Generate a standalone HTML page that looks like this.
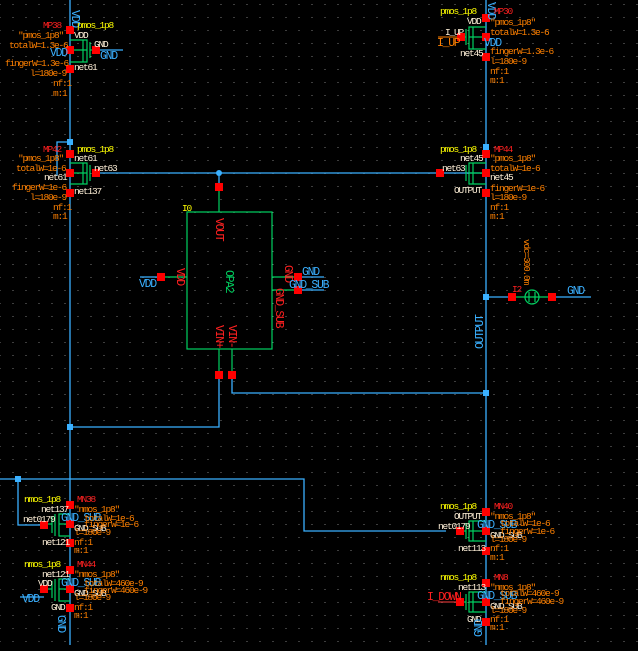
<!DOCTYPE html>
<html><head><meta charset="utf-8"><style>
html,body{margin:0;padding:0;background:#000;}
svg{display:block}
text{font-family:"Liberation Mono",monospace;font-size:9.5px;letter-spacing:-1.2px;}
text[font-size="10"]{font-size:11.5px;letter-spacing:-1.3px;}
.y{fill:#ffff00}.o{fill:#ff8000}.r{fill:#ff2020}.w{fill:#fff0d8}.b{fill:#3ab0ff}.g{fill:#00d060}
</style></head><body>
<svg width="638" height="651" viewBox="0 0 638 651" xmlns="http://www.w3.org/2000/svg">
<defs>
<pattern id="dots" x="12.5" y="4" width="13" height="13" patternUnits="userSpaceOnUse">
<rect x="0" y="0" width="1" height="1" fill="#7a7a7a"/></pattern>
</defs>
<rect width="638" height="651" fill="#000"/>
<rect width="638" height="651" fill="url(#dots)"/>

<g stroke="#3ab0ff" stroke-width="1.3" fill="none">
<line x1="70" y1="0" x2="70" y2="645"/>
<line x1="486" y1="0" x2="486" y2="645"/>
<polyline points="70,142 57,142 57,176"/>
<line x1="96" y1="173" x2="486" y2="173"/>
<polyline points="219,375 219,427 70,427"/>
<polyline points="232,375 232,393 486,393"/>
<line x1="140" y1="277" x2="161" y2="277"/>
<line x1="298" y1="277" x2="324" y2="277"/>
<line x1="298" y1="290" x2="324" y2="290"/>
<line x1="486" y1="297" x2="512" y2="297"/>
<line x1="552" y1="297" x2="591" y2="297"/>
<polyline points="0,479 304,479 304,531 446,531"/>
<polyline points="18,479 18,525 44,525"/>
<line x1="96" y1="50" x2="123" y2="50"/>
<line x1="20" y1="597" x2="44" y2="597"/>
<line x1="219" y1="173" x2="219" y2="187"/>
</g>
<line x1="438" y1="37" x2="461" y2="37" stroke="#ff8000" stroke-width="1"/>
<line x1="438" y1="602" x2="460" y2="602" stroke="#ff4040" stroke-width="1"/>

<g fill="#3ab0ff">
<rect x="67" y="139" width="6" height="6"/>
<circle cx="219" cy="173" r="3"/>
<rect x="483" y="144" width="6" height="6"/>
<rect x="483" y="294" width="6" height="6"/>
<rect x="483" y="390" width="6" height="6"/>
<rect x="67" y="424" width="6" height="6"/>
<rect x="15" y="476" width="6" height="6"/>
</g>

<g stroke="#00d060" stroke-width="1.2" fill="none">
<rect x="187" y="212" width="85" height="137"/>
<line x1="219" y1="187" x2="219" y2="212"/>
<line x1="161" y1="277" x2="187" y2="277"/>
<line x1="272" y1="277" x2="298" y2="277"/>
<line x1="272" y1="290" x2="298" y2="290"/>
<line x1="219" y1="349" x2="219" y2="375"/>
<line x1="232" y1="349" x2="232" y2="375"/>
<line x1="512" y1="297" x2="552" y2="297"/>
<circle cx="532" cy="297" r="7"/>
<line x1="529" y1="292" x2="529" y2="302"/>
<line x1="535" y1="292" x2="535" y2="302"/>
<polyline points="70,40 87,40 87,62 70,62"/><line x1="83" y1="40" x2="83" y2="62"/><line x1="90" y1="42" x2="90" y2="58"/><line x1="90" y1="50" x2="96" y2="50"/><line x1="70" y1="50" x2="87" y2="50"/>
<polyline points="70,163 87,163 87,184 70,184"/><line x1="83" y1="163" x2="83" y2="184"/><line x1="90" y1="165" x2="90" y2="181"/><line x1="70" y1="173" x2="87" y2="173"/>
<polyline points="486,27 469,27 469,49 486,49"/><line x1="473" y1="27" x2="473" y2="49"/><line x1="466" y1="29" x2="466" y2="45"/><line x1="461" y1="37" x2="466" y2="37"/><line x1="469" y1="37" x2="486" y2="37"/>
<polyline points="486,163 469,163 469,184 486,184"/><line x1="473" y1="163" x2="473" y2="184"/><line x1="466" y1="165" x2="466" y2="181"/><line x1="469" y1="173" x2="486" y2="173"/>
<polyline points="70,514 59,514 59,536 70,536"/><line x1="55" y1="514" x2="55" y2="536"/><line x1="52" y1="516" x2="52" y2="533"/><line x1="44" y1="524" x2="52" y2="524"/><line x1="59" y1="524" x2="70" y2="524"/>
<polyline points="70,579 59,579 59,601 70,601"/><line x1="55" y1="579" x2="55" y2="601"/><line x1="52" y1="581" x2="52" y2="598"/><line x1="44" y1="589" x2="52" y2="589"/><line x1="59" y1="589" x2="70" y2="589"/>
<polyline points="486,521 469,521 469,541 486,541"/><line x1="473" y1="521" x2="473" y2="541"/><line x1="466" y1="523" x2="466" y2="539"/><line x1="460" y1="531" x2="466" y2="531"/><line x1="469" y1="531" x2="486" y2="531"/>
<polyline points="486,592 469,592 469,612 486,612"/><line x1="473" y1="592" x2="473" y2="612"/><line x1="466" y1="594" x2="466" y2="610"/><line x1="460" y1="602" x2="466" y2="602"/><line x1="469" y1="602" x2="486" y2="602"/>
</g>

<g fill="#ff0000">
<rect x="66" y="26" width="8" height="8"/><rect x="66" y="46" width="8" height="8"/><rect x="66" y="65" width="8" height="8"/><rect x="92" y="46" width="8" height="8"/>
<rect x="66" y="150" width="8" height="8"/><rect x="66" y="169" width="8" height="8"/><rect x="66" y="189" width="8" height="8"/><rect x="92" y="169" width="8" height="8"/>
<rect x="482" y="14" width="8" height="8"/><rect x="482" y="33" width="8" height="8"/><rect x="482" y="53" width="8" height="8"/><rect x="457" y="33" width="8" height="8"/>
<rect x="482" y="150" width="8" height="8"/><rect x="482" y="169" width="8" height="8"/><rect x="482" y="189" width="8" height="8"/><rect x="436" y="169" width="8" height="8"/>
<rect x="215" y="183" width="8" height="8"/><rect x="157" y="273" width="8" height="8"/><rect x="294" y="273" width="8" height="8"/><rect x="294" y="286" width="8" height="8"/>
<rect x="215" y="371" width="8" height="8"/><rect x="228" y="371" width="8" height="8"/>
<rect x="508" y="293" width="8" height="8"/><rect x="548" y="293" width="8" height="8"/>
<rect x="66" y="501" width="8" height="8"/><rect x="66" y="520" width="8" height="8"/><rect x="66" y="539" width="8" height="8"/><rect x="40" y="521" width="8" height="8"/>
<rect x="66" y="566" width="8" height="8"/><rect x="66" y="585" width="8" height="8"/><rect x="66" y="604" width="8" height="8"/><rect x="40" y="585" width="8" height="8"/>
<rect x="482" y="508" width="8" height="8"/><rect x="482" y="527" width="8" height="8"/><rect x="482" y="547" width="8" height="8"/><rect x="456" y="527" width="8" height="8"/>
<rect x="482" y="579" width="8" height="8"/><rect x="482" y="598" width="8" height="8"/><rect x="482" y="618" width="8" height="8"/><rect x="456" y="598" width="8" height="8"/>
</g>

<text x="72" y="10" class="b" transform="rotate(90 72 10)" font-size="10">VDD</text>
<text x="43" y="28" class="r">MP38</text><text x="77" y="28" class="y">pmos_1p8</text>
<text x="18" y="38" class="o">"pmos_1p8"</text><text x="74" y="38" class="w">VDD</text>
<text x="9" y="48" class="o">totalW=1.3e-6</text><text x="94" y="47" class="w">GND</text>
<text x="50" y="56" class="b" font-size="10">VDD</text><text x="100" y="59" class="b" font-size="10">GND</text>
<text x="5" y="66" class="o">fingerW=1.3e-6</text><text x="74" y="70" class="w">net61</text>
<text x="30" y="76" class="o">l=180e-9</text>
<text x="53" y="86" class="o">nf:1</text><text x="53" y="96" class="o">m:1</text>
<text x="43" y="152" class="r">MP42</text><text x="77" y="152" class="y">pmos_1p8</text>
<text x="18" y="161" class="o">"pmos_1p8"</text><text x="74" y="161" class="w">net61</text>
<text x="16" y="171" class="o">totalW=1e-6</text><text x="94" y="171" class="w">net63</text>
<text x="44" y="180" class="w">net61</text>
<text x="12" y="190" class="o">fingerW=1e-6</text><text x="74" y="194" class="w">net137</text>
<text x="30" y="200" class="o">l=180e-9</text>
<text x="53" y="210" class="o">nf:1</text><text x="53" y="219" class="o">m:1</text>

<text x="488" y="2" class="b" transform="rotate(90 488 2)" font-size="10">VDD</text>
<text x="440" y="14" class="y">pmos_1p8</text><text x="494" y="14" class="r">MP30</text>
<text x="467" y="24" class="w">VDD</text><text x="490" y="25" class="o">"pmos_1p8"</text>
<text x="445" y="35" class="w">I_UP</text><text x="490" y="35" class="o">totalW=1.3e-6</text>
<text x="437" y="46" class="o" font-size="10">I_UP</text><text x="484" y="46" class="b" font-size="10">VDD</text>
<text x="460" y="56" class="w">net45</text><text x="490" y="54" class="o">fingerW=1.3e-6</text>
<text x="490" y="64" class="o">l=180e-9</text>
<text x="490" y="74" class="o">nf:1</text><text x="490" y="83" class="o">m:1</text>
<text x="440" y="152" class="y">pmos_1p8</text><text x="494" y="152" class="r">MP44</text>
<text x="460" y="161" class="w">net45</text><text x="490" y="161" class="o">"pmos_1p8"</text>
<text x="442" y="171" class="w">net63</text><text x="490" y="171" class="o">totalW=1e-6</text>
<text x="490" y="180" class="w">net45</text>
<text x="454" y="193" class="w">OUTPUT</text><text x="490" y="191" class="o">fingerW=1e-6</text>
<text x="490" y="200" class="o">l=180e-9</text>
<text x="490" y="210" class="o">nf:1</text><text x="490" y="219" class="o">m:1</text>

<text x="182" y="211" class="y">I0</text>
<text x="216" y="218" class="r" transform="rotate(90 216 218)" font-size="10">VOUT</text>
<text x="177" y="268" class="r" transform="rotate(90 177 268)" font-size="10">VDD</text>
<text x="226" y="270" class="g" transform="rotate(90 226 270)" font-size="10">OPA2</text>
<text x="285" y="265" class="r" transform="rotate(90 285 265)" font-size="10">GND</text>
<text x="276" y="288" class="r" transform="rotate(90 276 288)" font-size="10">GND_SUB</text>
<text x="216" y="325" class="r" transform="rotate(90 216 325)" font-size="10">VIN+</text>
<text x="229" y="325" class="r" transform="rotate(90 229 325)" font-size="10">VIN-</text>
<text x="139" y="287" class="b" font-size="10">VDD</text>
<text x="302" y="275" class="b" font-size="10">GND</text>
<text x="289" y="288" class="b" font-size="10">GND_SUB</text>

<text x="524" y="239" class="o" transform="rotate(90 524 239)">vdc=300.0m</text>
<text x="512" y="292" class="r">I2</text>
<text x="567" y="294" class="b" font-size="10">GND</text>
<text x="483" y="349" class="b" transform="rotate(-90 483 349)" font-size="10">OUTPUT</text>

<text x="24" y="502" class="y">nmos_1p8</text><text x="77" y="502" class="r">MN38</text>
<text x="41" y="512" class="w">net137</text><text x="74" y="512" class="o">"nmos_1p8"</text>
<text x="23" y="522" class="w">net0179</text><text x="61" y="521" class="b" font-size="10">GND_SUB</text><text x="84" y="521" class="o">totalW=1e-6</text>
<text x="74" y="531" class="w">GND_SUB</text><text x="84" y="527" class="o">fingerW=1e-6</text>
<text x="74" y="535" class="o">l=180e-9</text>
<text x="42" y="545" class="w">net121</text><text x="74" y="545" class="o">nf:1</text><text x="74" y="553" class="o">m:1</text>
<text x="24" y="567" class="y">nmos_1p8</text><text x="77" y="567" class="r">MN44</text>
<text x="42" y="577" class="w">net121</text><text x="74" y="577" class="o">"nmos_1p8"</text>
<text x="38" y="586" class="w">VDD</text><text x="61" y="586" class="b" font-size="10">GND_SUB</text><text x="84" y="586" class="o">totalW=460e-9</text>
<text x="22" y="602" class="b" font-size="10">VDD</text><text x="74" y="596" class="w">GND_SUB</text><text x="84" y="593" class="o">fingerW=460e-9</text>
<text x="74" y="600" class="o">l=180e-9</text>
<text x="51" y="610" class="w">GND</text><text x="74" y="610" class="o">nf:1</text><text x="74" y="618" class="o">m:1</text>
<text x="58" y="615" class="b" transform="rotate(90 58 615)" font-size="10">GND</text>

<text x="440" y="509" class="y">nmos_1p8</text><text x="494" y="509" class="r">MN40</text>
<text x="454" y="519" class="w">OUTPUT</text><text x="490" y="519" class="o">"nmos_1p8"</text>
<text x="438" y="529" class="w">net0179</text><text x="477" y="528" class="b" font-size="10">GND_SUB</text><text x="500" y="526" class="o">totalW=1e-6</text>
<text x="490" y="538" class="w">GND_SUB</text><text x="500" y="534" class="o">fingerW=1e-6</text>
<text x="490" y="542" class="o">l=180e-9</text>
<text x="458" y="551" class="w">net113</text><text x="490" y="551" class="o">nf:1</text><text x="490" y="560" class="o">m:1</text>
<text x="440" y="580" class="y">nmos_1p8</text><text x="494" y="580" class="r">MN8</text>
<text x="458" y="590" class="w">net113</text><text x="490" y="590" class="o">"nmos_1p8"</text>
<text x="427" y="600" class="r" font-size="10">I_DOWN</text><text x="477" y="599" class="b" font-size="10">GND_SUB</text><text x="500" y="596" class="o">totalW=460e-9</text>
<text x="490" y="609" class="w">GND_SUB</text><text x="500" y="604" class="o">fingerW=460e-9</text>
<text x="490" y="613" class="o">l=180e-9</text>
<text x="467" y="622" class="w">GND</text><text x="490" y="622" class="o">nf:1</text><text x="490" y="630" class="o">m:1</text>
<text x="482" y="637" class="b" transform="rotate(-90 482 637)" font-size="10">GND</text>
</svg>
</body></html>
